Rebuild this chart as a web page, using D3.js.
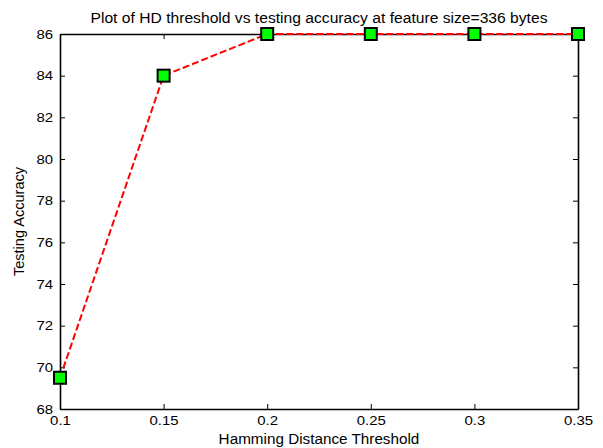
<!DOCTYPE html>
<html>
<head>
<meta charset="utf-8">
<script src="https://cdn.jsdelivr.net/npm/d3@7"></script>
<style>
  body { margin: 0; background: #fff; }
  text { font-family: "Liberation Sans", Arial, sans-serif; fill: #000; }
</style>
</head>
<body>
<script>
const thresholds = [0.1, 0.15, 0.2, 0.25, 0.3, 0.35];
const accuracy = [69.5, 84, 86, 86, 86, 86];
const xTicks = [0.1, 0.15, 0.2, 0.25, 0.3, 0.35];
const yTicks = [68, 70, 72, 74, 76, 78, 80, 82, 84, 86];

const svg = d3.select('body')
  .append('svg')
  .attr('width', 603)
  .attr('height', 448)

const margin = { top: 34, right: 25, bottom: 39, left: 60 }
const width = 603 - margin.left - margin.right;
const height = 448 - margin.top - margin.bottom;

const xScale = d3.scaleLinear().domain([0.1, 0.35]).range([0, width]);
const yScale = d3.scaleLinear().domain([68, 86]).range([height, 0]);

const g = svg.append('g')
  .attr('transform', 'translate(' + margin.left + ',' + margin.top + ')')

// stretch text horizontally a bit, the reference font renders wider
function widen(sel, factor) {
  sel.each(function () {
    const len = this.getComputedTextLength();
    d3.select(this)
      .attr('textLength', len * factor)
      .attr('lengthAdjust', 'spacingAndGlyphs');
  });
}

// axes, MATLAB style ticks pointing inward
const tickLen = 5;
g.append('g')
  .attr('transform', 'translate(0,' + height + ')')
  .call(d3.axisBottom(xScale).tickValues(xTicks).tickSizeInner(-tickLen).tickSizeOuter(0).tickPadding(7).tickFormat(d3.format('~g')))
g.append('g')
  .call(d3.axisLeft(yScale).tickValues(yTicks).tickSizeInner(-tickLen).tickSizeOuter(0).tickPadding(7))
g.append('g')
  .call(d3.axisTop(xScale).tickValues(xTicks).tickSizeInner(-tickLen).tickSizeOuter(0).tickFormat(''))
g.append('g')
  .attr('transform', 'translate(' + width + ',0)')
  .call(d3.axisRight(yScale).tickValues(yTicks).tickSizeInner(-tickLen).tickSizeOuter(0).tickFormat(''))

g.selectAll('.domain').attr('stroke', '#000').attr('stroke-width', 1.6)
g.selectAll('.tick line').attr('stroke', '#000').attr('stroke-width', 1)
g.selectAll('.tick text').style('font-size', '13px').call(widen, 1.15)

// line
const line = d3.line()
  .x(function (d, i) { return xScale(thresholds[i]) })
  .y(function (d) { return yScale(d) })

g.append('path')
  .datum(accuracy)
  .attr('d', line)
  .attr('fill', 'none')
  .attr('stroke', '#ff0000')
  .attr('stroke-width', 2)
  .attr('stroke-dasharray', '7,3')

// markers
const ms = 12;
g.selectAll('rect.marker')
  .data(accuracy)
  .enter()
  .append('rect')
  .attr('class', 'marker')
  .attr('x', function (d, i) { return xScale(thresholds[i]) - ms / 2 })
  .attr('y', function (d) { return yScale(d) - ms / 2 })
  .attr('width', ms)
  .attr('height', ms)
  .attr('fill', '#00ff00')
  .attr('stroke', '#000')
  .attr('stroke-width', 2)

// labels
svg.append('text')
  .attr('x', margin.left + width / 2)
  .attr('y', 23)
  .attr('text-anchor', 'middle')
  .style('font-size', '14px')
  .text('Plot of HD threshold vs testing accuracy at feature size=336 bytes')
  .attr('textLength', 457)
  .attr('lengthAdjust', 'spacingAndGlyphs')

svg.append('text')
  .attr('x', margin.left + width / 2)
  .attr('y', 444)
  .attr('text-anchor', 'middle')
  .style('font-size', '14px')
  .text('Hamming Distance Threshold')
  .call(widen, 1.09)

svg.append('text')
  .attr('transform', 'translate(24,' + (margin.top + height / 2) + ') rotate(-90)')
  .attr('text-anchor', 'middle')
  .style('font-size', '14px')
  .text('Testing Accuracy')
  .call(widen, 1.04)
</script>
</body>
</html>
